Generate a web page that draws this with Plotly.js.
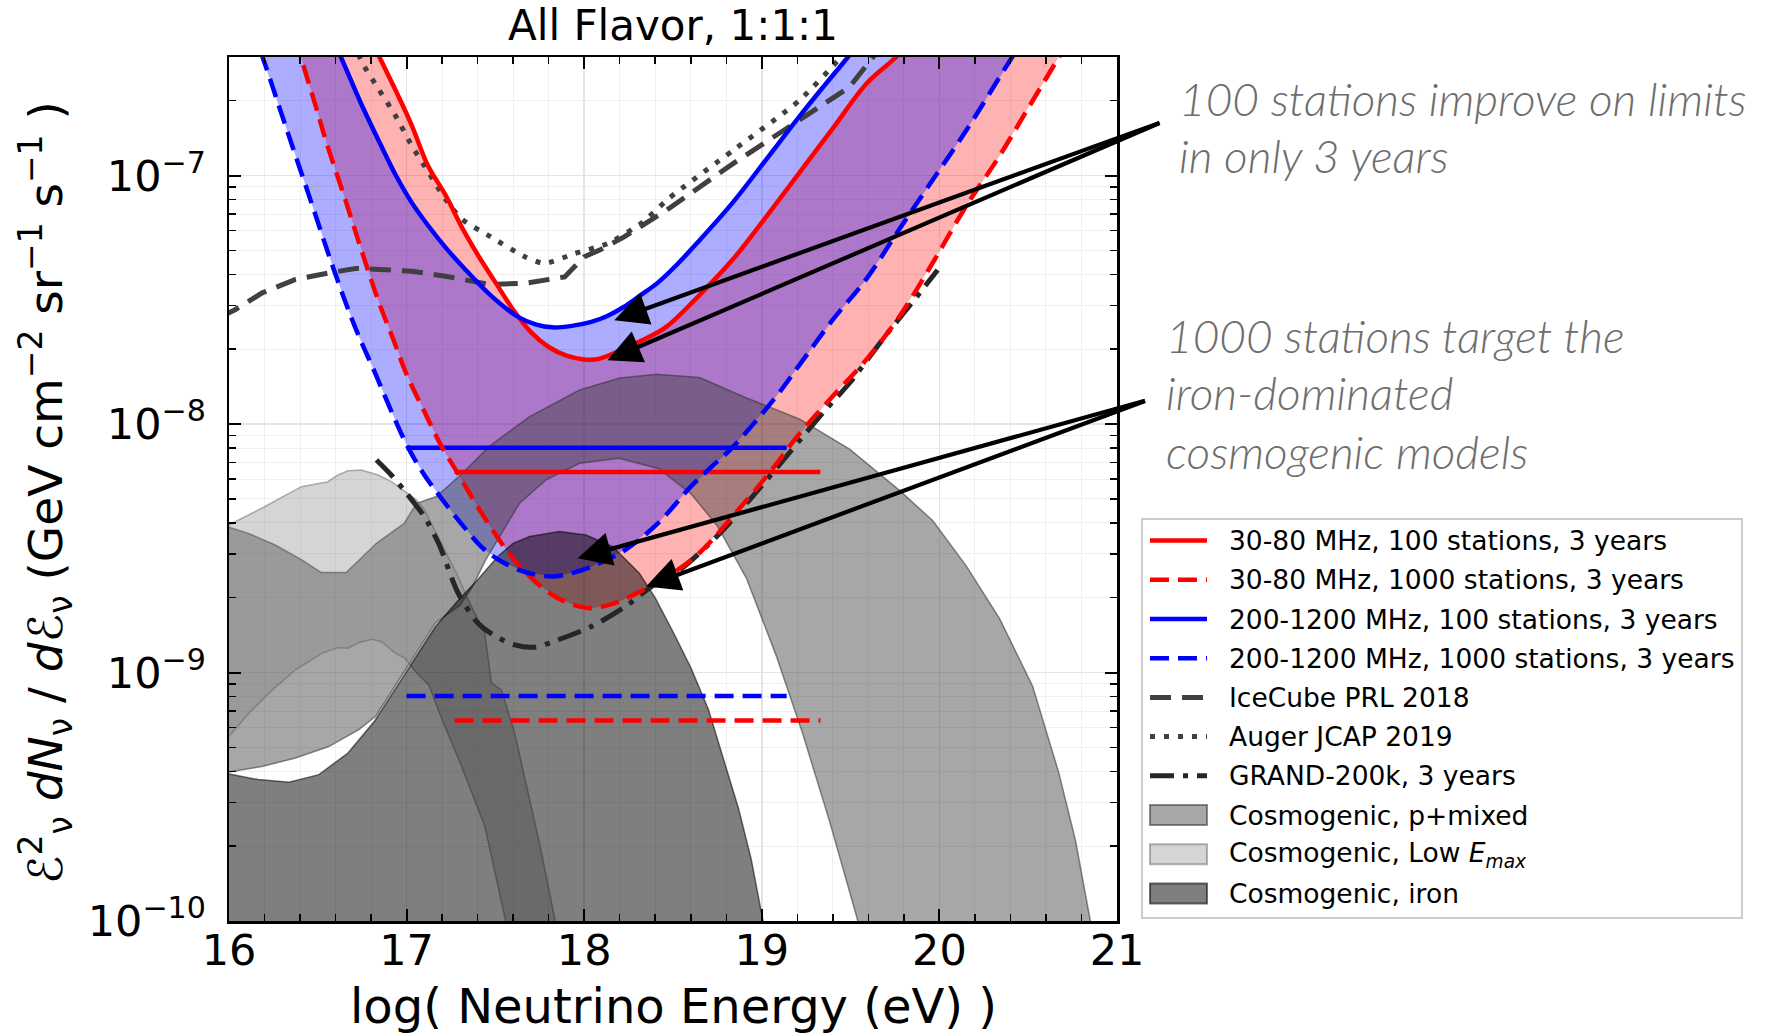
<!DOCTYPE html>
<html>
<head>
<meta charset="utf-8">
<script src="https://cdn.plot.ly/plotly-3.0.1.min.js"></script>
<style>
  html, body { margin: 0; padding: 0; background: #ffffff; }
  #chart { width: 1777px; height: 1036px; }
</style>
</head>
<body>
<div id="chart"></div>
<script>
// Energies are log10(E / eV); fluxes are stored as log10 of E^2 dN/dE in GeV cm^-2 sr^-1 s^-1.

// 30-80 MHz, 100 stations, 3 years
const redSolidE   = [16.75, 16.845, 16.94, 17.03, 17.12, 17.22, 17.32, 17.41, 17.50, 17.60, 17.70, 17.80, 17.90, 18.00, 18.08, 18.20, 18.32, 18.46, 18.65, 18.84, 19.02, 19.21, 19.40, 19.59, 19.76, 19.90];
const redSolidLog = [-6.38, -6.52, -6.66, -6.80, -6.96, -7.08, -7.22, -7.33, -7.43, -7.54, -7.63, -7.69, -7.725, -7.74, -7.738, -7.705, -7.665, -7.61, -7.48, -7.335, -7.17, -6.99, -6.81, -6.63, -6.52, -6.40];

// 30-80 MHz, 1000 stations, 3 years
const redDashE   = [16.33, 16.403, 16.488, 16.55, 16.656, 16.75, 16.844, 16.92, 17.0, 17.10, 17.197, 17.29, 17.38, 17.478, 17.57, 17.66, 17.75, 17.85, 17.95, 18.04, 18.13, 18.22, 18.355, 18.50, 18.647, 18.85, 19.05, 19.20, 19.397, 19.585, 19.773, 19.96, 20.148, 20.335, 20.504, 20.673, 20.80];
const redDashLog = [-6.34, -6.52, -6.72, -6.87, -7.10, -7.31, -7.51, -7.65, -7.80, -7.95, -8.09, -8.20, -8.31, -8.42, -8.515, -8.59, -8.65, -8.70, -8.73, -8.741, -8.73, -8.707, -8.66, -8.60, -8.52, -8.36, -8.19, -8.05, -7.89, -7.744, -7.569, -7.354, -7.126, -6.925, -6.724, -6.523, -6.37];

// 200-1200 MHz, 100 stations, 3 years
const blueSolidE   = [16.53, 16.628, 16.75, 16.85, 16.94, 17.03, 17.12, 17.22, 17.32, 17.47, 17.63, 17.73, 17.82, 17.93, 18.04, 18.13, 18.22, 18.32, 18.41, 18.52, 18.65, 18.835, 19.02, 19.21, 19.35, 19.485, 19.62];
const blueSolidLog = [-6.37, -6.52, -6.72, -6.87, -7.0, -7.11, -7.20, -7.29, -7.37, -7.48, -7.57, -7.60, -7.611, -7.605, -7.589, -7.565, -7.53, -7.48, -7.434, -7.36, -7.26, -7.11, -6.94, -6.764, -6.64, -6.523, -6.40];

// 200-1200 MHz, 1000 stations, 3 years
const blueDashE   = [16.12, 16.187, 16.281, 16.37, 16.469, 16.562, 16.656, 16.73, 16.82, 16.915, 17.005, 17.10, 17.197, 17.33, 17.43, 17.515, 17.66, 17.816, 17.93, 18.04, 18.23, 18.416, 18.6, 18.72, 18.835, 19.08, 19.21, 19.40, 19.585, 19.78, 19.96, 20.15, 20.41, 20.55];
const blueDashLog = [-6.40, -6.52, -6.72, -6.91, -7.12, -7.32, -7.51, -7.645, -7.79, -7.95, -8.09, -8.205, -8.30, -8.42, -8.50, -8.545, -8.594, -8.614, -8.60, -8.574, -8.507, -8.399, -8.252, -8.17, -8.094, -7.89, -7.764, -7.58, -7.42, -7.21, -7.02, -6.82, -6.523, -6.37];

// Integrated limits (flat lines) over the energy span of each design
const limitSpan200   = [17.0, 19.14];
const limitSpan3080  = [17.27, 19.33];
const blueLimitLog   = [-8.095, -9.095];   // 100 stations, 1000 stations
const redLimitLog    = [-8.193, -9.193];

// IceCube PRL 2018
const iceE   = [15.95, 16.037, 16.187, 16.375, 16.562, 16.712, 16.844, 17.031, 17.219, 17.463, 17.665, 17.89, 18.0, 18.087, 18.225, 18.463, 18.838, 19.213, 19.494, 19.626, 19.70];
const iceLog = [-7.57, -7.539, -7.472, -7.418, -7.392, -7.374, -7.378, -7.385, -7.405, -7.438, -7.434, -7.408, -7.327, -7.30, -7.247, -7.14, -6.952, -6.778, -6.644, -6.523, -6.46];

// Auger JCAP 2019
const augerE   = [16.70, 16.75, 16.844, 16.938, 17.031, 17.125, 17.219, 17.313, 17.47, 17.666, 17.777, 17.945, 18.13, 18.32, 18.48, 18.838, 19.213, 19.43, 19.50];
const augerLog = [-6.46, -6.546, -6.654, -6.76, -6.882, -6.989, -7.096, -7.177, -7.245, -7.327, -7.354, -7.314, -7.274, -7.193, -7.09, -6.899, -6.697, -6.536, -6.48];

// GRAND-200k, 3 years
const grandE   = [16.83, 16.92, 17.0, 17.1, 17.18, 17.29, 17.40, 17.48, 17.61, 17.72, 17.85, 18.04, 18.23, 18.38, 18.55, 18.75, 18.95, 19.15, 19.35, 19.5, 19.68, 19.87, 19.99];
const grandLog = [-8.145, -8.21, -8.279, -8.373, -8.48, -8.68, -8.80, -8.845, -8.889, -8.898, -8.869, -8.815, -8.735, -8.654, -8.58, -8.45, -8.29, -8.12, -7.95, -7.83, -7.66, -7.49, -7.38];

// Cosmogenic, p+mixed: upper and lower envelope
const pmixUpE   = [15.95, 16.0, 16.11, 16.26, 16.41, 16.52, 16.66, 16.83, 16.986, 17.056, 17.168, 17.315, 17.465, 17.693, 17.974, 18.2, 18.407, 18.65, 18.894, 19.213, 19.494, 19.775, 19.963, 20.15, 20.338, 20.525, 20.672, 20.766, 20.85, 20.9];
const pmixUpLog = [-8.41, -8.415, -8.44, -8.487, -8.547, -8.598, -8.598, -8.48, -8.40, -8.319, -8.292, -8.198, -8.09, -7.97, -7.863, -7.815, -7.80, -7.813, -7.889, -7.98, -8.101, -8.267, -8.389, -8.57, -8.782, -9.055, -9.403, -9.675, -10.0, -10.2];
const pmixLoE   = [15.95, 16.0, 16.187, 16.375, 16.562, 16.731, 16.826, 16.994, 17.163, 17.30, 17.371, 17.446, 17.524, 17.636, 17.785, 17.974, 18.197, 18.42, 18.6, 18.75, 18.913, 19.08, 19.232, 19.382, 19.541, 19.6];
const pmixLoLog = [-9.40, -9.40, -9.378, -9.344, -9.298, -9.23, -9.176, -8.99, -8.80, -8.73, -8.654, -8.546, -8.453, -8.319, -8.225, -8.158, -8.138, -8.18, -8.28, -8.41, -8.62, -8.93, -9.25, -9.60, -10.0, -10.2];

// Cosmogenic, low E_max: upper and lower envelope
const lowUpE   = [15.95, 16.0, 16.09, 16.2, 16.407, 16.557, 16.613, 16.67, 16.745, 16.84, 16.915, 16.99, 17.056, 17.10, 17.197, 17.29, 17.347, 17.44, 17.478, 17.534, 17.609, 17.684, 17.76, 17.835, 17.86];
const lowUpLog = [-8.40, -8.406, -8.373, -8.333, -8.252, -8.232, -8.205, -8.188, -8.185, -8.205, -8.232, -8.272, -8.305, -8.345, -8.48, -8.614, -8.708, -8.842, -9.043, -9.07, -9.244, -9.485, -9.726, -9.994, -10.1];
const lowLoE   = [15.95, 16.0, 16.113, 16.244, 16.375, 16.525, 16.615, 16.67, 16.728, 16.803, 16.86, 16.935, 16.99, 17.05, 17.125, 17.2, 17.31, 17.44, 17.556, 17.58];
const lowLoLog = [-9.28, -9.257, -9.163, -9.07, -8.989, -8.922, -8.90, -8.902, -8.88, -8.866, -8.876, -8.922, -8.942, -8.996, -9.05, -9.19, -9.378, -9.619, -9.994, -10.1];

// Cosmogenic, iron: upper envelope (lower envelope lies below the plotted range)
const ironE   = [15.95, 16.0, 16.165, 16.338, 16.506, 16.67, 16.82, 16.994, 17.163, 17.29, 17.40, 17.515, 17.60, 17.693, 17.86, 18.01, 18.16, 18.31, 18.40, 18.51, 18.60, 18.70, 18.79, 18.87, 18.94, 19.007, 19.04];
const ironLog = [-9.40, -9.408, -9.431, -9.442, -9.411, -9.324, -9.195, -9.005, -8.815, -8.71, -8.627, -8.532, -8.48, -8.453, -8.433, -8.447, -8.493, -8.60, -8.70, -8.85, -8.98, -9.15, -9.36, -9.55, -9.75, -10.0, -10.2];
const ironFloorLog = -10.6;

// Axis ticks
const xTicks = [16, 17, 18, 19, 20, 21];
const yDecades = [-10, -9, -8, -7];
const minorDigits = [2, 3, 4, 5, 6, 7, 8, 9];

// Styles shared by curves and legend swatches
const sty = {
  r100:  { color: '#ff0000', width: 4.5, dash: 'solid' },
  r1000: { color: '#ff0000', width: 4.5, dash: '19px,9px' },
  b100:  { color: '#0000ff', width: 4.5, dash: 'solid' },
  b1000: { color: '#0000ff', width: 4.5, dash: '19px,9px' },
  ice:   { color: '#404040', width: 5, dash: '21px,11px' },
  auger: { color: '#404040', width: 5, dash: '5px,9px' },
  grand: { color: '#262626', width: 5, dash: '24px,9px,5px,9px' },
  pmix:  { fill: 'rgba(60,60,60,0.45)',   edge: 'rgba(50,50,50,0.55)' },
  lowE:  { fill: 'rgba(128,128,128,0.33)', edge: 'rgba(90,90,90,0.45)' },
  iron:  { fill: 'rgba(0,0,0,0.50)',       edge: 'rgba(0,0,0,0.55)' }
};

// Legend entries, top to bottom
const legendKeys = ['r100', 'r1000', 'b100', 'b1000', 'ice', 'auger', 'grand', 'pmix', 'lowE', 'iron'];
const labels = {
  r100:  '30-80 MHz, 100 stations, 3 years',
  r1000: '30-80 MHz, 1000 stations, 3 years',
  b100:  '200-1200 MHz, 100 stations, 3 years',
  b1000: '200-1200 MHz, 1000 stations, 3 years',
  ice:   'IceCube PRL 2018',
  auger: 'Auger JCAP 2019',
  grand: 'GRAND-200k, 3 years',
  pmix:  'Cosmogenic, p+mixed',
  lowE:  'Cosmogenic, Low <i>E</i><sub><i>max</i></sub>',
  iron:  'Cosmogenic, iron'
};

const flux = arr => arr.map(v => Math.pow(10, v));
const rev = arr => arr.slice().reverse();

// closed outline: first edge forward, second edge backward
function band(xa, ya, xb, yb) {
  return { x: xa.concat(rev(xb)), y: flux(ya.concat(rev(yb))) };
}

const traces = [];

// sensitivity bands between 100- and 1000-station curves
const redBand = band(redDashE, redDashLog, redSolidE, redSolidLog);
traces.push({ x: redBand.x, y: redBand.y, mode: 'lines', fill: 'toself', name: 'band 30-80',
  fillcolor: 'rgba(255,0,0,0.30)', line: { width: 0 }, hoverinfo: 'skip' });
const blueBand = band(blueDashE, blueDashLog, blueSolidE, blueSolidLog);
traces.push({ x: blueBand.x, y: blueBand.y, mode: 'lines', fill: 'toself', name: 'band 200-1200',
  fillcolor: 'rgba(0,0,255,0.32)', line: { width: 0 }, hoverinfo: 'skip' });

// cosmogenic model bands
const pmix = band(pmixUpE, pmixUpLog, pmixLoE, pmixLoLog);
traces.push({ x: pmix.x, y: pmix.y, mode: 'lines', fill: 'toself', name: labels.pmix,
  fillcolor: sty.pmix.fill, line: { width: 1.5, color: sty.pmix.edge }, hoverinfo: 'skip' });
const lowE = band(lowUpE, lowUpLog, lowLoE, lowLoLog);
traces.push({ x: lowE.x, y: lowE.y, mode: 'lines', fill: 'toself', name: labels.lowE,
  fillcolor: sty.lowE.fill, line: { width: 1.5, color: sty.lowE.edge }, hoverinfo: 'skip' });
const ironX = ironE.concat([ironE[ironE.length - 1], ironE[0]]);
const ironY = flux(ironLog.concat([ironFloorLog, ironFloorLog]));
traces.push({ x: ironX, y: ironY, mode: 'lines', fill: 'toself', name: labels.iron,
  fillcolor: sty.iron.fill, line: { width: 1.5, color: sty.iron.edge }, hoverinfo: 'skip' });

// integrated limits
function flat(span, logv, s) {
  return { x: span, y: flux([logv, logv]), mode: 'lines', hoverinfo: 'skip',
    line: { color: s.color, width: s.width, dash: s.dash } };
}
traces.push(flat(limitSpan200, blueLimitLog[0], sty.b100));
traces.push(flat(limitSpan3080, redLimitLog[0], sty.r100));
traces.push(flat(limitSpan200, blueLimitLog[1], sty.b1000));
traces.push(flat(limitSpan3080, redLimitLog[1], sty.r1000));

// existing limits and GRAND
traces.push({ x: iceE, y: flux(iceLog), mode: 'lines', name: labels.ice, line: sty.ice });
traces.push({ x: augerE, y: flux(augerLog), mode: 'lines', name: labels.auger,
  line: Object.assign({ shape: 'spline', smoothing: 0.6 }, sty.auger) });
traces.push({ x: grandE, y: flux(grandLog), mode: 'lines', name: labels.grand,
  line: Object.assign({ shape: 'spline', smoothing: 0.8 }, sty.grand) });

// sensitivity curves
[['r100', redSolidE, redSolidLog], ['r1000', redDashE, redDashLog],
 ['b100', blueSolidE, blueSolidLog], ['b1000', blueDashE, blueDashLog]].forEach(([k, xs, ys]) => {
  traces.push({ x: xs, y: flux(ys), mode: 'lines', name: labels[k],
    line: Object.assign({ shape: 'spline', smoothing: 1 }, sty[k]) });
});

// minor y ticks at 2..9 of each decade
const yMinor = [];
yDecades.forEach(d => minorDigits.forEach(m => yMinor.push(m * Math.pow(10, d))));

// ---- page geometry (pixels) used for the items placed outside the axes ----
const M = { l: 229, r: 660, t: 57, b: 115 };
const PW = 1777 - M.l - M.r, PH = 1036 - M.t - M.b;
const px = X => (X - M.l) / PW;            // page x -> paper x
const py = Y => (1036 - M.b - Y) / PH;     // page y -> paper y

// callout arrows: tail and head positions in (log10 E, log10 flux)
const arrows = [
  { tail: [21.248, -6.786], head: [18.169, -7.582] },
  { tail: [21.248, -6.786], head: [18.131, -7.743] },
  { tail: [21.166, -7.905], head: [17.963, -8.540] },
  { tail: [21.166, -7.905], head: [18.348, -8.654] }
];

const noteFont = { family: 'Lato, "Open Sans", sans-serif', size: 46, color: '#6e6e6e', style: 'italic', weight: 300 };
const notes = [
  { text: '100 stations improve on limits', X: 1177, Y: 98 },
  { text: 'in only 3 years',                X: 1177, Y: 155 },
  { text: '1000 stations target the',       X: 1164, Y: 336 },
  { text: 'iron-dominated',                 X: 1164, Y: 393 },
  { text: 'cosmogenic models',              X: 1164, Y: 451 }
];

const annotations = [];
const shapes = [];
arrows.forEach(a => annotations.push({
  x: a.head[0], y: a.head[1], xref: 'x', yref: 'y',
  ax: a.tail[0], ay: a.tail[1], axref: 'x', ayref: 'y',
  text: '', showarrow: true, arrowhead: 2, arrowsize: 1.6, arrowwidth: 4.2, arrowcolor: '#000000', standoff: 0
}));
notes.forEach(n => annotations.push({
  text: n.text, x: px(n.X), y: py(n.Y), xref: 'paper', yref: 'paper', xanchor: 'left', yanchor: 'middle',
  showarrow: false, font: noteFont
}));

// axis titles
annotations.push({
  text: 'log( Neutrino Energy (eV) )', x: 0.5, y: py(1006), xref: 'paper', yref: 'paper',
  xanchor: 'center', yanchor: 'middle', showarrow: false, font: { family: 'DejaVu Sans', size: 48, color: '#000' }
});
annotations.push({
  text: 'ℰ<sup>2</sup><sub>ν</sub> <i>dN</i><sub>ν</sub> / <i>d</i>ℰ<sub>ν</sub> (GeV cm<sup>−2</sup> sr<sup>−1</sup> s<sup>−1</sup> )',
  x: px(45), y: py(493), xref: 'paper', yref: 'paper', xanchor: 'center', yanchor: 'middle',
  textangle: -90, showarrow: false, font: { family: 'DejaVu Sans', size: 47, color: '#000' }
});

// legend: framed box with line / patch swatches
const LG = { x0: 1142, x1: 1742, y0: 519, y1: 918, sx0: 1150, sx1: 1207, tx: 1227, row0: 540.6, step: 39.2 };
shapes.push({ type: 'rect', xref: 'paper', yref: 'paper', layer: 'above',
  x0: px(LG.x0), x1: px(LG.x1), y0: py(LG.y1), y1: py(LG.y0),
  line: { color: '#cccccc', width: 2 }, fillcolor: '#ffffff' });
legendKeys.forEach((k, i) => {
  const Y = LG.row0 + LG.step * i;
  const s = sty[k];
  if (s.fill) {
    shapes.push({ type: 'rect', xref: 'paper', yref: 'paper', layer: 'above',
      x0: px(LG.sx0), x1: px(LG.sx1), y0: py(Y + 10), y1: py(Y - 10),
      fillcolor: s.fill, line: { color: s.edge, width: 2 } });
  } else {
    shapes.push({ type: 'line', xref: 'paper', yref: 'paper', layer: 'above',
      x0: px(LG.sx0), x1: px(LG.sx1), y0: py(Y), y1: py(Y),
      line: { color: s.color, width: s.width, dash: s.dash } });
  }
  annotations.push({ text: labels[k], x: px(LG.tx), y: py(Y), xref: 'paper', yref: 'paper',
    xanchor: 'left', yanchor: 'middle', showarrow: false,
    font: { family: 'DejaVu Sans', size: 26.5, color: '#000' } });
});

const layout = {
  width: 1777, height: 1036,
  margin: M,
  paper_bgcolor: '#ffffff', plot_bgcolor: '#ffffff',
  font: { family: 'DejaVu Sans', color: '#000000' },
  title: { text: 'All Flavor, 1:1:1', font: { size: 42, family: 'DejaVu Sans' },
    x: 0.5, xref: 'paper', xanchor: 'center', y: 1 - 25 / 1036, yref: 'container', yanchor: 'middle' },
  showlegend: false,
  xaxis: {
    range: [16, 21], tickmode: 'array', tickvals: xTicks, ticktext: xTicks.map(String),
    ticks: 'inside', ticklen: 12, tickwidth: 2, tickcolor: '#000',
    showline: true, linecolor: '#000', linewidth: 2.5, mirror: 'ticks',
    tickfont: { size: 43 }, ticklabelstandoff: -10,
    showgrid: true, gridcolor: '#e4e4e4', gridwidth: 1.5, zeroline: false,
    minor: { tickmode: 'linear', tick0: 16, dtick: 0.2, ticks: 'inside', ticklen: 7, tickwidth: 1.5, tickcolor: '#000',
      showgrid: true, gridcolor: '#efefef', gridwidth: 1 }
  },
  yaxis: {
    type: 'log', range: [-10, -6.523], tickmode: 'array',
    tickvals: yDecades.map(d => Math.pow(10, d)),
    ticktext: yDecades.map(d => '10<sup>−' + Math.abs(d) + '</sup>'),
    ticks: 'inside', ticklen: 12, tickwidth: 2, tickcolor: '#000',
    showline: true, linecolor: '#000', linewidth: 2.5, mirror: 'ticks',
    tickfont: { size: 43 }, ticklabelstandoff: 12,
    showgrid: true, gridcolor: '#e4e4e4', gridwidth: 1.5, zeroline: false,
    minor: { tickmode: 'array', tickvals: yMinor, ticks: 'inside', ticklen: 7, tickwidth: 1.5, tickcolor: '#000',
      showgrid: true, gridcolor: '#efefef', gridwidth: 1 }
  },
  shapes: shapes,
  annotations: annotations
};

Plotly.newPlot('chart', traces, layout, { staticPlot: true, displayModeBar: false });
</script>
</body>
</html>
